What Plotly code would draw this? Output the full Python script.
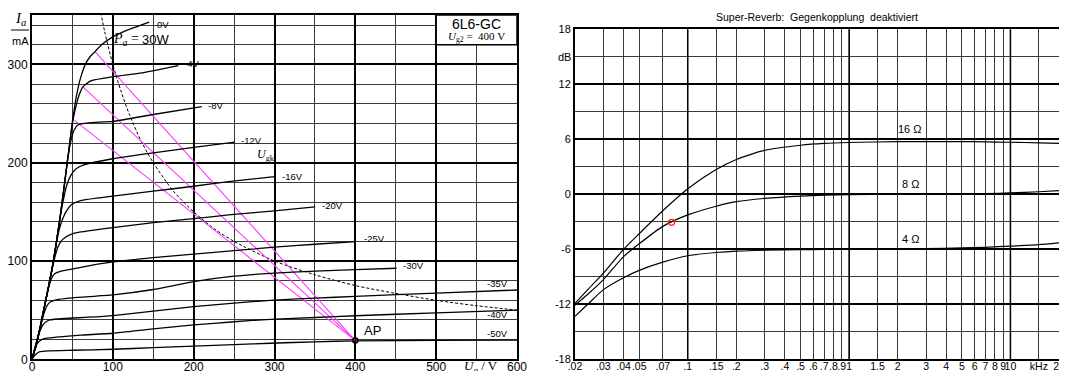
import numpy as np
import plotly.graph_objects as go

# ---------------- Left panel: 6L6-GC anode characteristics ----------------
tube_name = "6L6-GC"
ug2_value = "400 V"

ua_g0 = [0, 5, 10, 15, 20, 25, 30, 35, 40, 45, 50, 55, 60, 66, 72, 78, 86, 100, 110, 125, 145]
ia_g0 = [0, 14, 32, 52, 72, 93, 118, 146, 177, 209, 242, 268, 286, 300, 308, 313, 320, 328, 332, 337, 343]
ua_g4 = [0, 5, 10, 15, 20, 25, 30, 35, 40, 45, 50, 54, 58, 63, 72, 90, 105, 134, 181]
ia_g4 = [0, 14, 32, 52, 72, 93, 118, 146, 177, 209, 240, 256, 268, 277, 283, 286, 288, 291, 298.7]
ua_g8 = [0, 5, 10, 15, 20, 25, 30, 35, 40, 44, 48, 52, 57, 70, 100, 150, 210]
ia_g8 = [0, 14, 32, 52, 72, 93, 118, 146, 177, 203, 222, 233, 238.5, 240.5, 242, 249, 257]
ua_g12 = [0, 5, 10, 15, 20, 25, 30, 35, 39, 43, 48, 55, 65, 100, 150, 200, 251]
ia_g12 = [0, 14, 32, 52, 72, 93, 118, 145, 163, 177, 187, 194, 198, 204, 210, 215.5, 221]
ua_g16 = [0, 5, 10, 15, 20, 25, 30, 34, 38, 42, 49, 60, 100, 150, 200, 243, 300]
ia_g16 = [0, 14, 32, 52, 72, 93, 117, 133, 143, 150, 157.5, 161.5, 166, 171, 176, 180.7, 185.8]
ua_g20 = [0, 5, 10, 15, 20, 25, 29, 33, 38, 48, 60, 100, 150, 200, 243, 300, 350]
ia_g20 = [0, 14, 32, 52, 72, 92, 106, 116, 122, 127, 129.5, 134, 139, 143, 146.8, 151, 155]
ua_g25 = [0, 5, 10, 15, 20, 24, 28, 35, 44, 70, 100, 150, 200, 243, 300, 350, 400]
ia_g25 = [0, 14, 32, 52, 71, 82, 87, 89.5, 91, 95, 99, 103.5, 107, 110, 114, 117, 119.6]
ua_g30 = [0, 5, 10, 15, 19, 23, 30, 50, 100, 150, 200, 250, 295, 350, 400, 451]
ia_g30 = [0, 16, 32, 47, 55, 58.5, 60.5, 62.5, 65.5, 71, 79, 84.5, 87.5, 89.7, 91.3, 92.6]
ua_g35 = [0, 5, 10, 14, 18, 22, 40, 70, 100, 150, 200, 250, 295, 350, 400, 500, 600]
ia_g35 = [0, 16, 29, 35.5, 38.5, 40, 41.5, 42.8, 44.5, 49, 53.5, 57.2, 60, 62.2, 64, 67.4, 70.5]
ua_g40 = [0, 4, 8, 12, 17, 30, 60, 100, 150, 200, 250, 295, 350, 400, 500, 600]
ia_g40 = [0, 12, 17.5, 20, 21.2, 22.5, 24.5, 26.5, 31, 35, 38.2, 40.7, 42.5, 44.3, 47.3, 50]
ua_g50 = [0, 3, 6, 10, 20, 50, 100, 150, 200, 250, 295, 350, 400, 500, 600]
ia_g50 = [0, 3.5, 6, 7.7, 8.5, 9.2, 10.2, 11.8, 13.5, 15, 16.3, 17.8, 18.8, 19.2, 19.5]

grid_labels = ["0V", "-4V", "-8V", "-12V", "-16V", "-20V", "-25V", "-30V", "-35V", "-40V", "-50V"]
label_ua = [152, 185, 215, 256, 307, 356, 408, 457, 561, 561, 561]
label_ia = [341, 301, 258, 223, 186, 156, 123, 95, 77, 46, 26.5]

# Pa = 30 W hyperbola
pa_ua = [85, 90, 100, 110, 120, 135, 150, 175, 200, 225, 250, 300, 350, 400, 450, 500, 550, 600]
pa_ia = [353, 333, 300, 273, 250, 222, 200, 171, 150, 133, 120, 100, 86, 75, 67, 60, 54.5, 50]

# Load lines (start points) and operating point AP
load_start_ua = [78, 63, 52.5]
load_start_ia = [313, 277, 243]
ap_ua = [400]
ap_ia = [19]

x_ticks_left = [0, 100, 200, 300, 400, 500, 600]
y_ticks_left = [0, 100, 200, 300]

# ---------------- Right panel: frequency response ----------------
freq = [0.02, 0.024, 0.03, 0.04, 0.05, 0.07, 0.1, 0.15, 0.2, 0.3, 0.5, 0.7, 1, 2, 3, 5, 7, 10, 15, 20]
db_16 = [-11.9, -10.4, -8.6, -6.0, -4.3, -1.8, 0.6, 2.7, 3.8, 4.8, 5.35, 5.55, 5.65, 5.75, 5.75, 5.75, 5.72, 5.68, 5.62, 5.55]
db_8 = [-12.1, -10.9, -9.3, -6.8, -5.4, -3.5, -2.25, -1.3, -0.8, -0.45, -0.2, -0.1, -0.05, 0, 0, 0.02, 0.07, 0.15, 0.28, 0.4]
db_4 = [-13.3, -12.0, -10.4, -9.1, -8.3, -7.4, -6.7, -6.35, -6.2, -6.1, -6.05, -6.02, -6.0, -5.95, -5.92, -5.85, -5.78, -5.65, -5.5, -5.3]
imp_labels = ["16 Ω", "8 Ω", "4 Ω"]
imp_label_f = [2.4, 2.4, 2.4]
imp_label_db = [7.1, 1.1, -4.9]
mark_f = [0.0794]
mark_db = [-3.06]

freq_ticks = [0.02, 0.03, 0.04, 0.05, 0.07, 0.1, 0.15, 0.2, 0.3, 0.4, 0.5, 0.6, 0.7, 0.8, 0.9,
              1, 1.5, 2, 3, 4, 5, 6, 7, 8, 9, 10, 15, 20]
freq_tick_text = [".02", ".03", ".04", ".05", ".07", ".1", ".15", ".2", ".3", ".4", ".5", ".6", ".7", ".8", ".9",
                  "1", "1.5", "2", "3", "4", "5", "6", "7", "8", "9", "10", "kHz", "20"]
freq_major = [0.1, 1, 10]
db_ticks = [-18, -12, -6, 0, 6, 12, 18]
right_title = "Super-Reverb:\u00a0 Gegenkopplung\u00a0 deaktiviert"

# ---------------- Figure ----------------
W, H = 1067, 371
OFF = 8  # page body margin: the figure is drawn 8 px right / down in the window
SANS = "Liberation Sans, Arial, sans-serif"
SERIF = "Liberation Serif, DejaVu Serif, serif"

def px(x):
    return (x - OFF) / W

def py(y):
    return (H - (y - OFF)) / H

fig = go.Figure()

curves = [(ua_g0, ia_g0), (ua_g4, ia_g4), (ua_g8, ia_g8), (ua_g12, ia_g12), (ua_g16, ia_g16),
          (ua_g20, ia_g20), (ua_g25, ia_g25), (ua_g30, ia_g30), (ua_g35, ia_g35), (ua_g40, ia_g40),
          (ua_g50, ia_g50)]

# thick decade lines on the log axis (drawn under the curves)
for fm in freq_major:
    fig.add_trace(go.Scatter(x=[fm, fm], y=[-18, 18], mode="lines", xaxis="x2", yaxis="y2",
                             line=dict(color="black", width=1.5), hoverinfo="skip", showlegend=False))

# Pa hyperbola
fig.add_trace(go.Scatter(x=pa_ua, y=pa_ia, mode="lines", xaxis="x", yaxis="y",
                         line=dict(color="black", width=1, dash="3px,2px", shape="spline", smoothing=0.8),
                         hoverinfo="skip", showlegend=False))
# load lines
for su, si in zip(load_start_ua, load_start_ia):
    fig.add_trace(go.Scatter(x=[su, ap_ua[0]], y=[si, ap_ia[0]], mode="lines", xaxis="x", yaxis="y",
                             line=dict(color="#ff3cff", width=1.1), hoverinfo="skip", showlegend=False))
for u, i in curves:
    fig.add_trace(go.Scatter(x=u, y=i, mode="lines", xaxis="x", yaxis="y",
                             line=dict(color="black", width=1.3, shape="spline", smoothing=0.5),
                             hoverinfo="skip", showlegend=False))
fig.add_trace(go.Scatter(x=ap_ua, y=ap_ia, mode="markers", xaxis="x", yaxis="y",
                         marker=dict(symbol="circle-open", size=5, color="black", line=dict(width=1.5)),
                         hoverinfo="skip", showlegend=False))

# right panel curves
for dbs in (db_16, db_8, db_4):
    fig.add_trace(go.Scatter(x=freq, y=dbs, mode="lines", xaxis="x2", yaxis="y2",
                             line=dict(color="black", width=1.2, shape="spline", smoothing=0.6),
                             hoverinfo="skip", showlegend=False))
fig.add_trace(go.Scatter(x=mark_f, y=mark_db, mode="markers", xaxis="x2", yaxis="y2",
                         marker=dict(symbol="circle-open", size=6, color="#ff2a10", line=dict(width=1.3)),
                         hoverinfo="skip", showlegend=False))

tickfont_l = dict(family=SANS, size=12, color="black")
tickfont_r = dict(family=SANS, size=10.5, color="black")

fig.update_layout(
    width=W, height=H, margin=dict(l=0, r=0, t=0, b=0, autoexpand=False),
    paper_bgcolor="white", plot_bgcolor="white", showlegend=False,
    xaxis=dict(domain=[px(32), px(517)], range=[0, 600], tickmode="array", tickvals=x_ticks_left,
               ticktext=[str(v) for v in x_ticks_left], tickfont=tickfont_l, ticks="", tickangle=0,
               ticklabelstandoff=-5,
               showgrid=True, gridcolor="black", gridwidth=1.5, zeroline=False,
               minor=dict(dtick=50, tick0=0, showgrid=True, gridcolor="#3a3a3a", gridwidth=0.9),
               showline=True, mirror=True, linecolor="black", linewidth=2, anchor="y"),
    yaxis=dict(domain=[py(359.3), py(15.2)], range=[0, 350], tickmode="array", tickvals=y_ticks_left,
               ticktext=[str(v) for v in y_ticks_left], tickfont=tickfont_l, ticks="",
               showgrid=True, gridcolor="black", gridwidth=1.5, zeroline=False,
               minor=dict(dtick=20, tick0=0, showgrid=True, gridcolor="#3a3a3a", gridwidth=0.9),
               showline=True, mirror=True, linecolor="black", linewidth=2, anchor="x"),
    xaxis2=dict(domain=[px(575), px(1059)], type="log", range=[np.log10(0.02), np.log10(20)],
                tickmode="array", tickvals=freq_ticks, ticktext=freq_tick_text, tickfont=tickfont_r,
                ticks="", tickangle=0, ticklabelstandoff=-4,
                showgrid=True, gridcolor="#3a3a3a", gridwidth=0.9, zeroline=False,
                showline=True, mirror=True, linecolor="black", linewidth=2, anchor="y2"),
    yaxis2=dict(domain=[py(359.3), py(29.3)], range=[-18, 18], tickmode="array", tickvals=db_ticks,
                ticktext=[str(v) for v in db_ticks], tickfont=dict(family=SANS, size=11, color="black"),
                ticks="", showgrid=True, gridcolor="black", gridwidth=1.5, zeroline=False,
                minor=dict(dtick=3, tick0=0, showgrid=True, gridcolor="#3a3a3a", gridwidth=0.9),
                showline=True, mirror=True, linecolor="black", linewidth=2, anchor="x2"),
)

shapes = [
    # type-plate box
    dict(type="rect", xref="x", yref="y", x0=500, x1=600, y0=320, y1=350,
         fillcolor="white", line=dict(color="black", width=1.5), layer="above"),
    # Ia / mA fraction bar
    dict(type="line", xref="paper", yref="paper", x0=px(11), x1=px(29), y0=py(30), y1=py(30),
         line=dict(color="black", width=1)),
]
fig.update_layout(shapes=shapes)

def note(x, y, text, xref, yref, font, xanchor="center", yanchor="middle"):
    return dict(x=x, y=y, xref=xref, yref=yref, text=text, showarrow=False,
                xanchor=xanchor, yanchor=yanchor, font=font)

ann = []
for t, u, i in zip(grid_labels, label_ua, label_ia):
    ann.append(note(u, i, t, "x", "y", dict(family=SANS, size=9.5, color="black"), xanchor="left"))
ann += [
    note(550, 341.5, tube_name, "x", "y", dict(family=SANS, size=14, color="black")),
    note(550, 327.5, "<i>U</i><sub>g2</sub> =  " + ug2_value, "x", "y", dict(family=SERIF, size=11, color="black")),
    note(98, 325, "<i>P</i><sub><i>a</i></sub> =", "x", "y", dict(family=SERIF, size=14, color="black"), xanchor="left"),
    note(133, 325, "30W", "x", "y", dict(family=SANS, size=13, color="black"), xanchor="left"),
    note(276, 208, "<i>U</i><sub>gk</sub>", "x", "y", dict(family=SERIF, size=12, color="black"), xanchor="left"),
    note(408, 29, "AP", "x", "y", dict(family=SANS, size=13, color="black"), xanchor="left"),
    note(px(20), py(19), "<i>I</i><sub><i>a</i></sub>", "paper", "paper", dict(family=SERIF, size=15, color="black")),
    note(px(20), py(41), "mA", "paper", "paper", dict(family=SANS, size=11, color="black")),
    note(px(481), py(366), "<i>U</i><sub><i>a</i></sub> / V", "paper", "paper", dict(family=SERIF, size=13, color="black")),
    note(px(817), py(17), right_title, "paper", "paper", dict(family=SANS, size=10.5, color="black")),
    note(px(573), 15, "dB", "paper", "y2", dict(family=SANS, size=11, color="black"), xanchor="right"),
]
for t, f, d in zip(imp_labels, imp_label_f, imp_label_db):
    ann.append(note(np.log10(f), d, t, "x2", "y2", dict(family=SANS, size=11, color="black")))
fig.update_layout(annotations=ann)

fig.write_html("out.html")
